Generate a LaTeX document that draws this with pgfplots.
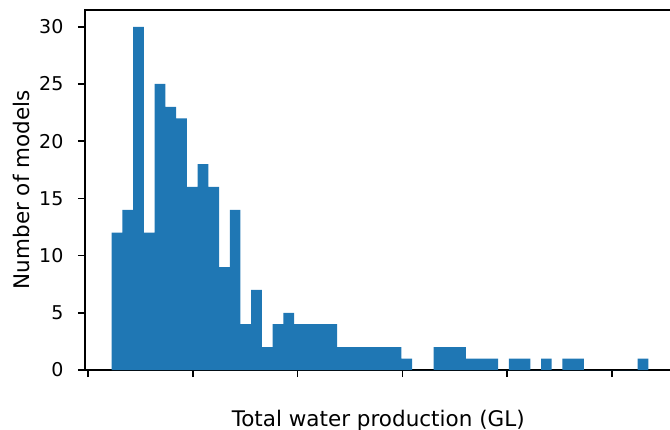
\documentclass[border=0pt]{standalone}
\usepackage{pgfplots}
\pgfplotsset{compat=1.18}
\usepackage{fontspec}
\setmainfont{DejaVu Sans}
\definecolor{mplblue}{HTML}{1F77B4}
\begin{document}
\fontsize{19pt}{23pt}\selectfont
\begin{tikzpicture}[x=1pt,y=1pt]
\useasboundingbox (0,0) rectangle (670,429);
\begin{axis}[
  at={(84.9pt,59pt)}, anchor=south west,
  scale only axis, width=590.2pt, height=360.4pt,
  xmin=-0.0296, xmax=5.602, ymin=0, ymax=31.5,
  xtick={0,1,2,3,4,5}, xticklabels={},
  ytick={0,5,10,15,20,25,30},
  tick align=outside, xtick pos=bottom, ytick pos=left,
  major tick length=7pt,
  every tick/.style={black, line width=1.6pt},
  axis line style={line width=2pt},
  /pgf/number format/assume math mode=true,
  tick label style={font=\fontsize{19pt}{23pt}\selectfont},
  yticklabel style={xshift=-8pt},
  label style={font=\fontsize{21.5pt}{25pt}\selectfont},
  xlabel={Total water production (GL)},
  ylabel={Number of models},
  xlabel style={at={(axis description cs:0.497,-0.1554)}, anchor=base},
  ylabel style={at={(axis description cs:-0.107,0.5)}, anchor=center, rotate=0},
]
\addplot[ybar interval, fill=mplblue, draw=none] coordinates {
(0.2261,12) (0.3285,14) (0.4309,30) (0.5333,12) (0.6357,25)
(0.7382,23) (0.8406,22) (0.9430,16) (1.0454,18) (1.1478,16)
(1.2502,9) (1.3526,14) (1.4550,4) (1.5574,7) (1.6598,2)
(1.7623,4) (1.8647,5) (1.9671,4) (2.0695,4) (2.1719,4)
(2.2743,4) (2.3767,2) (2.4791,2) (2.5815,2) (2.6839,2)
(2.7864,2) (2.8888,2) (2.9912,1) (3.0936,0) (3.1960,0)
(3.2984,2) (3.4008,2) (3.5032,2) (3.6056,1) (3.7080,1)
(3.8105,1) (3.9129,0) (4.0153,1) (4.1177,1) (4.2201,0)
(4.3225,1) (4.4249,0) (4.5273,1) (4.6297,1) (4.7321,0)
(4.8346,0) (4.9370,0) (5.0394,0) (5.1418,0) (5.2442,1)
(5.3466,0)
};
\end{axis}
\end{tikzpicture}
\end{document}
